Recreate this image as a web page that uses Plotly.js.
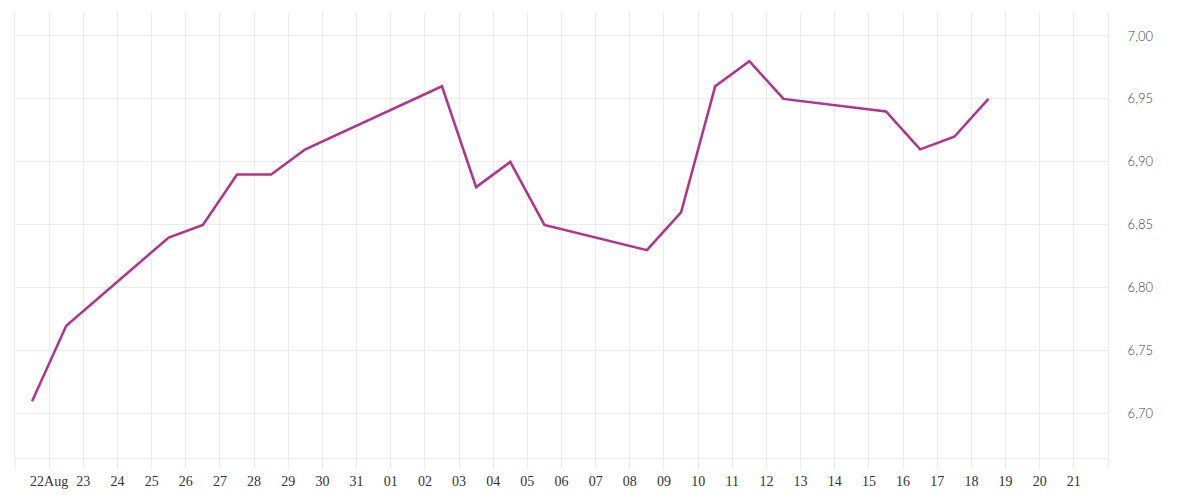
<!DOCTYPE html>
<html>
<head>
<meta charset="utf-8">
<script src="https://cdn.plot.ly/plotly-3.0.1.min.js"></script>
<style>
  html, body { margin: 0; padding: 0; background: #fff; }
  #chart { width: 1200px; height: 500px; }
</style>
</head>
<body>
<div id="chart"></div>
<script>
// daily readings, taken around midday
const dates = [
    '2023-08-21 12:00', '2023-08-22 12:00', '2023-08-25 12:00', '2023-08-26 12:00',
    '2023-08-27 12:00', '2023-08-28 12:00', '2023-08-29 12:00', '2023-09-02 12:00',
    '2023-09-03 12:00', '2023-09-04 12:00', '2023-09-05 12:00', '2023-09-08 12:00',
    '2023-09-09 12:00', '2023-09-10 12:00', '2023-09-11 12:00', '2023-09-12 12:00',
    '2023-09-15 12:00', '2023-09-16 12:00', '2023-09-17 12:00', '2023-09-18 12:00'
];
const values = [
    6.71, 6.77, 6.84, 6.85,
    6.89, 6.89, 6.91, 6.96,
    6.88, 6.90, 6.85, 6.83,
    6.86, 6.96, 6.98, 6.95,
    6.94, 6.91, 6.92, 6.95
];

// one tick per day, edges unlabeled
const tickDays = [
    '2023-08-21', '2023-08-22', '2023-08-23', '2023-08-24', '2023-08-25', '2023-08-26',
    '2023-08-27', '2023-08-28', '2023-08-29', '2023-08-30', '2023-08-31', '2023-09-01',
    '2023-09-02', '2023-09-03', '2023-09-04', '2023-09-05', '2023-09-06', '2023-09-07',
    '2023-09-08', '2023-09-09', '2023-09-10', '2023-09-11', '2023-09-12', '2023-09-13',
    '2023-09-14', '2023-09-15', '2023-09-16', '2023-09-17', '2023-09-18', '2023-09-19',
    '2023-09-20', '2023-09-21', '2023-09-22'
];
const tickLabels = [
    '', '22Aug', '23', '24', '25', '26',
    '27', '28', '29', '30', '31', '01',
    '02', '03', '04', '05', '06', '07',
    '08', '09', '10', '11', '12', '13',
    '14', '15', '16', '17', '18', '19',
    '20', '21', ''
];

const trace = {
    type: 'scatter',
    mode: 'lines',
    x: dates,
    y: values,
    line: { color: '#b3328c', width: 2.5 },
    hoverinfo: 'x+y'
};

const layout = {
    width: 1200,
    height: 500,
    margin: { t: 12, r: 92, l: 15, b: 42 },
    paper_bgcolor: '#fff',
    plot_bgcolor: '#fff',
    separators: ',.',
    showlegend: false,
    xaxis: {
        type: 'date',
        range: ['2023-08-21', '2023-09-22'],
        tickmode: 'array',
        tickvals: tickDays,
        ticktext: tickLabels,
        showgrid: true,
        gridcolor: '#ececec',
        gridwidth: 1,
        showline: true,
        linecolor: '#ececec',
        linewidth: 1,
        ticks: 'outside',
        ticklen: 10,
        tickcolor: '#ececec',
        tickfont: { family: 'Liberation Serif', size: 14, color: '#333' },
        zeroline: false
    },
    yaxis: {
        side: 'right',
        range: [6.665, 7.019],
        tickvals: [6.70, 6.75, 6.80, 6.85, 6.90, 6.95, 7.00],
        tickformat: '.2f',
        showgrid: true,
        gridcolor: '#ececec',
        gridwidth: 1,
        showline: true,
        mirror: true,
        linecolor: '#ececec',
        linewidth: 1,
        ticks: '',
        ticklabelstandoff: 16,
        tickfont: { family: 'Lato', size: 13, color: '#444', weight: 300 },
        zeroline: false
    }
};

Plotly.newPlot('chart', [trace], layout, { displayModeBar: false, staticPlot: true });
</script>
</body>
</html>
